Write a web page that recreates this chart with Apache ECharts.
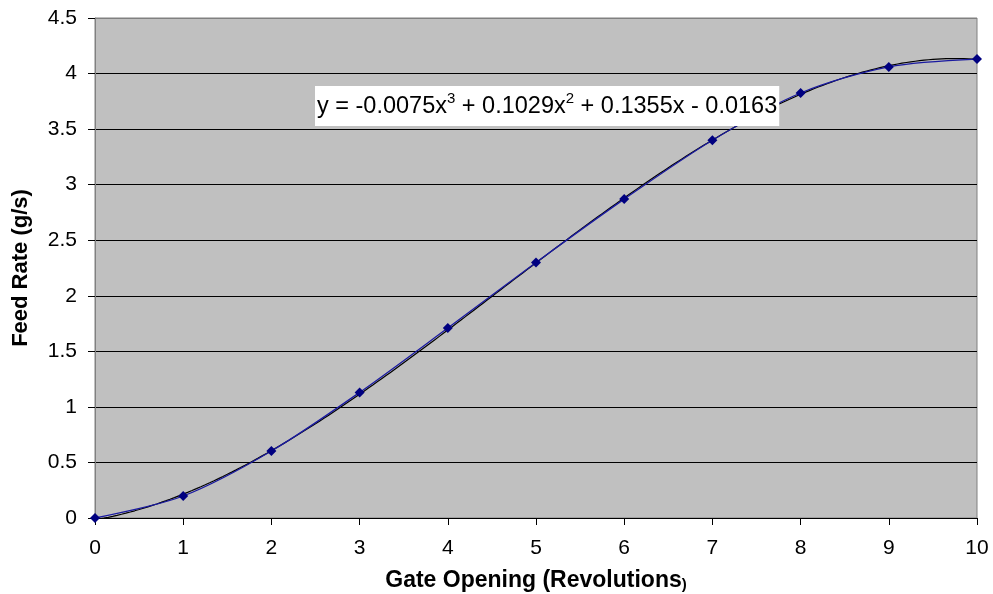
<!DOCTYPE html>
<html>
<head>
<meta charset="utf-8">
<script src="https://cdn.jsdelivr.net/npm/echarts@6/dist/echarts.min.js"></script>
<style>
  html, body { margin: 0; padding: 0; background: #fff; }
  #chart { width: 993px; height: 594px; }
</style>
</head>
<body>
<div id="chart"></div>
<script>
// Gate opening (revolutions) vs measured feed rate (g/s)
const revolutions = [0, 1, 2, 3, 4, 5, 6, 7, 8, 9, 10];
const feedRate = [0, 0.198, 0.603, 1.13, 1.71, 2.30, 2.87, 3.40, 3.825, 4.06, 4.13];

// Cubic trendline coefficients (x^3, x^2, x, constant)
const trendCoeffs = [-0.0075, 0.1029, 0.1355, -0.0163];

const xTicks = [0, 1, 2, 3, 4, 5, 6, 7, 8, 9, 10];
const yTicks = [0, 0.5, 1, 1.5, 2, 2.5, 3, 3.5, 4, 4.5];

// Sample the trendline along the x range
const trendPoints = [];
for (let i = 0; i <= 200; i++) {
  const x = i * 10 / 200;
  const y = ((trendCoeffs[0] * x + trendCoeffs[1]) * x + trendCoeffs[2]) * x + trendCoeffs[3];
  trendPoints.push([x, y]);
}

const FONT = '"Liberation Sans", Arial, sans-serif';
const chart = echarts.init(document.getElementById('chart'), null, { renderer: 'canvas' });

chart.setOption({
  animation: false,
  textStyle: { fontFamily: FONT },
  grid: {
    left: 95, right: 16, top: 18, bottom: 76,
    outerBoundsMode: 'none',
    containLabel: false,
    show: true,
    backgroundColor: '#C0C0C0',
    borderColor: '#808080',
    borderWidth: 1
  },
  xAxis: {
    type: 'value',
    min: 0, max: 10, interval: 1,
    name: 'Gate Opening (Revolutions{s|)}',
    nameLocation: 'middle',
    nameGap: 51,
    nameTextStyle: {
      fontFamily: FONT, fontSize: 23, fontWeight: 'bold', color: '#000',
      rich: { s: { fontFamily: FONT, fontSize: 15, fontWeight: 'bold', color: '#000', padding: [8, 0, 0, 0] } }
    },
    axisLine: { show: true, lineStyle: { color: '#000', width: 1 } },
    axisTick: { show: true, inside: false, length: 7, lineStyle: { color: '#000' } },
    axisLabel: {
      margin: 20, fontSize: 21, color: '#000', fontFamily: FONT,
      formatter: v => xTicks.includes(v) ? String(v) : ''
    },
    splitLine: { show: false }
  },
  yAxis: {
    type: 'value',
    min: 0, max: 4.5, interval: 0.5,
    name: 'Feed Rate (g/s)',
    nameLocation: 'middle',
    nameGap: 63,
    nameRotate: 90,
    nameTextStyle: { fontFamily: FONT, fontSize: 22, fontWeight: 'bold', color: '#000' },
    axisLine: { show: true, lineStyle: { color: '#808080', width: 1 } },
    axisTick: { show: true, inside: false, length: 7, lineStyle: { color: '#000' } },
    axisLabel: {
      margin: 18, fontSize: 21, color: '#000', fontFamily: FONT,
      formatter: v => yTicks.includes(v) ? String(v) : ''
    },
    splitLine: {
      show: true,
      lineStyle: { color: ['#000', '#000', '#000', '#000', '#000', '#000', '#000', '#000', '#000', '#808080'], width: 1 }
    }
  },
  series: [
    {
      name: 'Feed Rate',
      type: 'line',
      data: revolutions.map((x, i) => [x, feedRate[i]]),
      smooth: 0.3,
      symbol: 'diamond',
      symbolSize: 10,
      itemStyle: { color: '#000080' },
      lineStyle: { color: '#1a1aa0', width: 1.3 },
      z: 3
    },
    {
      name: 'Trend',
      type: 'line',
      data: trendPoints,
      showSymbol: false,
      symbol: 'none',
      lineStyle: { color: '#000', width: 1.2 },
      clip: true,
      z: 2
    }
  ],
  graphic: [
    {
      type: 'text',
      left: 315,
      top: 86,
      z: 10,
      style: {
        text: 'y = -0.0075x{sup|3} + 0.1029x{sup|2} + 0.1355x - 0.0163',
        fontFamily: FONT,
        fontSize: 23.5,
        fill: '#000',
        backgroundColor: '#fff',
        padding: [5, 2, 4, 2],
        rich: {
          sup: { fontFamily: FONT, fontSize: 15, fill: '#000', verticalAlign: 'top', padding: [0, 0, 16, 0] }
        }
      }
    }
  ]
});
</script>
</body>
</html>
